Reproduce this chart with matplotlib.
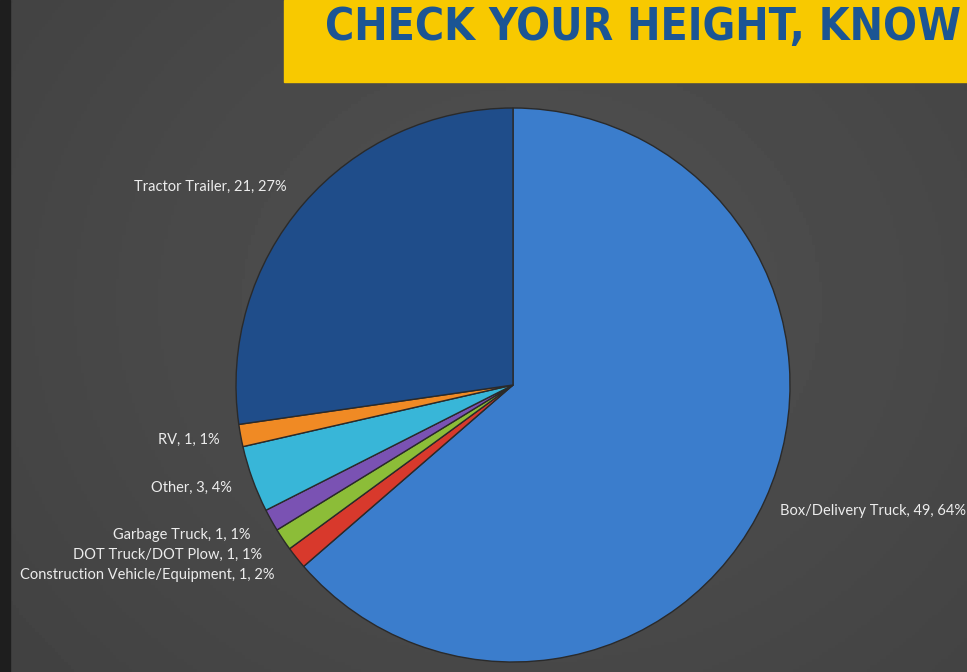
import numpy as np
import matplotlib.pyplot as plt
from matplotlib.patches import Rectangle

# vehicle types, clockwise from 12 o'clock
categories = ['Box/Delivery Truck', 'Construction Vehicle/Equipment', 'DOT Truck/DOT Plow',
              'Garbage Truck', 'Other', 'RV', 'Tractor Trailer']
counts = [49, 1, 1, 1, 3, 1, 21]
pct_labels = ['64%', '2%', '1%', '1%', '4%', '1%', '27%']
colors = ['#3b7dcc', '#d8392c', '#8cbd38', '#7a52b3', '#38b6d8', '#f08a24', '#1f4d8a']

# label anchors in pie data units (x, y, ha)
label_pos = [(0.965, -0.455, 'left'), (-0.86, -0.686, 'right'), (-0.906, -0.614, 'right'),
             (-0.949, -0.542, 'right'), (-1.014, -0.372, 'right'), (-1.058, -0.199, 'right'),
             (-0.816, 0.715, 'right')]

W, H = 967, 672
fig = plt.figure(figsize=(W / 100, H / 100), dpi=100)

# background gradient
bg = fig.add_axes([0, 0, 1, 1])
yy, xx = np.mgrid[0:1:200j, 0:1:300j]
r = np.sqrt((xx - 0.55) ** 2 + ((yy - 0.55) * 0.8) ** 2)
bg.imshow(0.32 - 0.09 * r, cmap='gray', vmin=0, vmax=1, extent=[0, 1, 0, 1],
          aspect='auto', origin='lower')
bg.add_patch(Rectangle((0, 0), 10 / W, 1, color='#1e1e1e', transform=bg.transAxes))
bg.add_patch(Rectangle((284 / W, 1 - 82 / H), 1, 82 / H, color='#f8c900', transform=bg.transAxes))
banner = bg.text(325 / W, 1 - 28 / H, 'CHECK YOUR HEIGHT, KNOW', transform=bg.transAxes,
                 family='DejaVu Sans', fontstretch='condensed', fontweight='bold', fontsize=30,
                 color='#1b5594', ha='left', va='center')
bg.set_xlim(0, 1)
bg.set_ylim(0, 1)
bg.axis('off')

# fit banner text to the banner width
renderer = fig.canvas.get_renderer()
w = banner.get_window_extent(renderer).width
banner.set_fontsize(30 * 634 / w)

# pie
R = 277
ax = fig.add_axes([(513 - R) / W, (H - 385 - R) / H, 2 * R / W, 2 * R / H])
ax.pie(counts, colors=colors, startangle=90, counterclock=False, radius=1,
       wedgeprops=dict(edgecolor='#2a2a2a', linewidth=1))
ax.set_xlim(-1, 1)
ax.set_ylim(-1, 1)
ax.set_aspect('equal')
ax.axis('off')

for cat, n, p, (x, y, ha) in zip(categories, counts, pct_labels, label_pos):
    ax.text(x, y, f'{cat}, {n}, {p}', ha=ha, va='center', fontsize=10.5,
            family='Lato', color='#ececec')

fig.savefig('out.png', dpi=100)
